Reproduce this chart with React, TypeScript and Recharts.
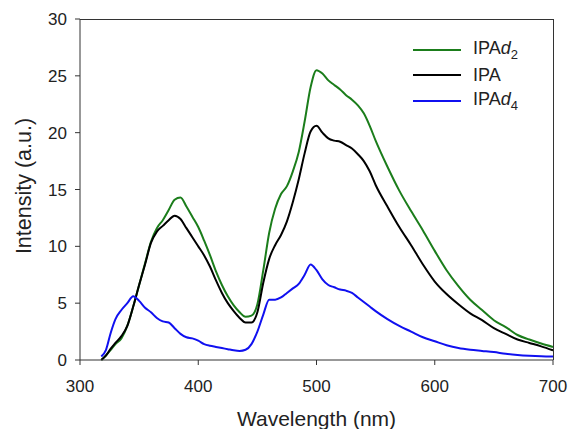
import React from 'react';
import { LineChart, Line, XAxis, YAxis, Legend } from 'recharts';

// wavelength grid (nm)
const wavelengths = [
  318, 322, 326, 330, 335, 340, 345, 350, 355, 360, 365, 370, 375, 380, 385, 390, 395, 400,
  405, 410, 415, 420, 425, 430, 435, 440, 445, 450, 455, 460, 465, 470, 475, 480, 485, 490,
  495, 500, 505, 510, 515, 520, 525, 530, 535, 540, 545, 550, 560, 570, 580, 590, 600, 610,
  620, 630, 640, 650, 660, 670, 680, 690, 700,
];

const ipaD2 = [
  0, 0.4, 0.9, 1.4, 1.9, 3.0, 4.7, 6.6, 8.5, 10.4, 11.6, 12.3, 13.2, 14.1, 14.3, 13.5, 12.6, 11.7,
  10.5, 9.2, 7.8, 6.6, 5.6, 4.8, 4.2, 3.8, 3.9, 4.9, 7.9, 11.2, 13.3, 14.6, 15.3, 16.6, 18.3, 21.0,
  24.0, 25.5, 25.2, 24.6, 24.2, 23.8, 23.3, 22.9, 22.4, 21.7, 20.6, 19.3, 17.0, 14.9, 13.1, 11.4, 9.6, 7.9,
  6.5, 5.3, 4.4, 3.5, 2.9, 2.2, 1.8, 1.45, 1.15,
];

const ipa = [
  0, 0.4, 1.0, 1.5, 2.1, 3.0, 4.7, 6.6, 8.4, 10.3, 11.3, 11.8, 12.3, 12.7, 12.4, 11.6, 10.8, 10.0,
  9.2, 8.2, 7.0, 5.9, 5.0, 4.3, 3.7, 3.3, 3.3, 4.2, 6.8, 8.9, 10.1, 11.0, 12.2, 13.9, 15.9, 18.2,
  20.1, 20.6, 20.0, 19.5, 19.3, 19.2, 18.9, 18.6, 18.1, 17.5, 16.6, 15.4, 13.5, 11.7, 10.1, 8.4, 6.9, 5.8,
  4.9, 4.1, 3.5, 2.8, 2.3, 1.8, 1.5, 1.2, 0.85,
];

const ipaD4 = [
  0.3, 0.9, 2.4, 3.6, 4.4, 5.0, 5.6, 5.2, 4.6, 4.2, 3.7, 3.4, 3.3, 2.8, 2.3, 2.0, 1.9, 1.7,
  1.4, 1.25, 1.15, 1.05, 0.95, 0.85, 0.8, 0.9, 1.4, 2.5, 4.0, 5.3, 5.3, 5.5, 5.9, 6.3, 6.7, 7.5,
  8.4, 7.9, 7.1, 6.6, 6.4, 6.2, 6.1, 5.9, 5.5, 5.1, 4.7, 4.3, 3.6, 3.0, 2.5, 2.0, 1.65, 1.3,
  1.05, 0.9, 0.8, 0.7, 0.55, 0.45, 0.38, 0.33, 0.3,
];

const xTicks = [300, 400, 500, 600, 700];
const yTicks = [0, 5, 10, 15, 20, 25, 30];

const data = wavelengths.map((wl, i) => ({ wl, d2: ipaD2[i], ipa: ipa[i], d4: ipaD4[i] }));

const FONT = '"Liberation Sans", Arial, sans-serif';
const AXIS = '#333';
const TEXT = '#222';

const series = [
  { key: 'd2', color: '#1b7d1b', name: 'IPA', sub: '2' },
  { key: 'ipa', color: '#000000', name: 'IPA', sub: '' },
  { key: 'd4', color: '#1010f0', name: 'IPA', sub: '4' },
];

const LegendBox = () => (
  <div style={{ fontFamily: FONT, fontSize: 18, color: TEXT }}>
    {series.map((s) => (
      <div key={s.key} style={{ display: 'flex', alignItems: 'center', height: 25.5 }}>
        <div style={{ width: 48, height: 2, background: s.color, marginRight: 12 }} />
        <span>
          {s.name}
          {s.sub && (
            <>
              <i>d</i>
              <sub style={{ fontSize: 13 }}>{s.sub}</sub>
            </>
          )}
        </span>
      </div>
    ))}
  </div>
);

const App: React.FC = () => {
  return (
    <div style={{ position: 'absolute', left: 0, top: 0, width: 569, height: 429, background: '#fff' }}>
      <LineChart
        width={569}
        height={429}
        data={data}
        margin={{ top: 19, right: 16, left: 0, bottom: 0 }}
      >
        <XAxis
          dataKey="wl"
          type="number"
          domain={[300, 700]}
          ticks={xTicks}
          height={69}
          tickSize={5}
          tickMargin={15}
          stroke={AXIS}
          tick={{ fill: TEXT, fontSize: 17, fontFamily: FONT }}
          label={{
            value: 'Wavelength (nm)',
            position: 'insideBottom',
            offset: 3,
            fill: TEXT,
            fontSize: 21,
            fontFamily: FONT,
          }}
        />
        <YAxis
          type="number"
          domain={[0, 30]}
          ticks={yTicks}
          width={80}
          tickSize={5}
          tickMargin={8}
          stroke={AXIS}
          tick={{ fill: TEXT, fontSize: 17, fontFamily: FONT }}
          label={() => (
            <text
              x={24}
              y={186}
              transform="rotate(-90 24 186)"
              textAnchor="middle"
              dominantBaseline="central"
              fill={TEXT}
              fontSize={21.5}
              fontFamily={FONT}
            >
              Intensity (a.u.)
            </text>
          )}
        />
        <Legend
          layout="vertical"
          align="center"
          verticalAlign="middle"
          wrapperStyle={{ left: 413, top: 37, width: 150 }}
          content={() => <LegendBox />}
        />
        {series.map((s) => (
          <Line
            key={s.key}
            type="monotone"
            dataKey={s.key}
            stroke={s.color}
            strokeWidth={2}
            dot={false}
            isAnimationActive={false}
          />
        ))}
      </LineChart>
      {/* frame: top and right edges of the plot box */}
      <div
        style={{
          position: 'absolute',
          left: 80,
          top: 19,
          width: 473.5,
          height: 341,
          borderTop: `1px solid ${AXIS}`,
          borderRight: `1px solid ${AXIS}`,
          boxSizing: 'border-box',
          pointerEvents: 'none',
        }}
      />
    </div>
  );
};

export default App;
